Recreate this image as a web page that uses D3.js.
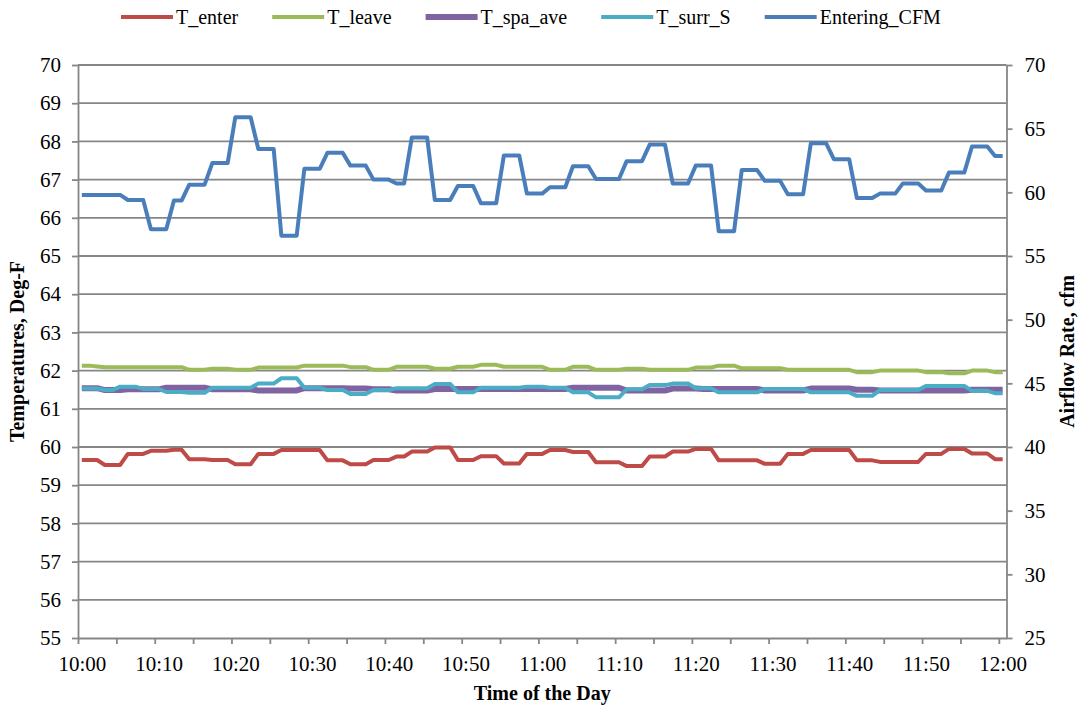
<!DOCTYPE html>
<html>
<head>
<meta charset="utf-8">
<script src="https://cdn.jsdelivr.net/npm/d3@7"></script>
<style>
  body { margin: 0; background: #fff; }
  .axis path, .axis line { stroke: #868686; stroke-width: 1.8; }
  .grid line { stroke: #868686; stroke-width: 1.8; }
</style>
</head>
<body>
<div id="chart"></div>
<script>
const FONT = '"Liberation Serif"';

// minute index from 10:00 (0) to 12:00 (120)
const minutes = d3.range(0, 121);
const tickLabels = ["10:00", "10:10", "10:20", "10:30", "10:40", "10:50", "11:00",
  "11:10", "11:20", "11:30", "11:40", "11:50", "12:00"];

const tEnter = [
  59.66, 59.66, 59.66, 59.53, 59.53, 59.53, 59.82, 59.82, 59.82, 59.90,
  59.90, 59.90, 59.93, 59.93, 59.68, 59.68, 59.68, 59.66, 59.66, 59.66,
  59.55, 59.55, 59.55, 59.82, 59.82, 59.82, 59.92, 59.92, 59.92, 59.92,
  59.92, 59.92, 59.65, 59.65, 59.65, 59.55, 59.55, 59.55, 59.66, 59.66,
  59.66, 59.75, 59.75, 59.88, 59.88, 59.88, 59.99, 59.99, 59.99, 59.66,
  59.66, 59.66, 59.76, 59.76, 59.76, 59.57, 59.57, 59.57, 59.82, 59.82,
  59.82, 59.92, 59.92, 59.92, 59.87, 59.87, 59.87, 59.60, 59.60, 59.60,
  59.60, 59.50, 59.50, 59.50, 59.75, 59.75, 59.75, 59.88, 59.88, 59.88,
  59.95, 59.95, 59.95, 59.65, 59.65, 59.65, 59.65, 59.65, 59.65, 59.56,
  59.56, 59.56, 59.82, 59.82, 59.82, 59.92, 59.92, 59.92, 59.92, 59.92,
  59.92, 59.65, 59.65, 59.65, 59.61, 59.61, 59.61, 59.61, 59.61, 59.61,
  59.82, 59.82, 59.82, 59.95, 59.95, 59.95, 59.83, 59.83, 59.83, 59.68,
  59.68
];

const tLeave = [
  62.13, 62.13, 62.11, 62.09, 62.09, 62.09, 62.09, 62.09, 62.09, 62.09,
  62.09, 62.09, 62.09, 62.09, 62.02, 62.02, 62.02, 62.05, 62.05, 62.05,
  62.02, 62.02, 62.02, 62.08, 62.08, 62.08, 62.08, 62.08, 62.08, 62.13,
  62.13, 62.13, 62.13, 62.13, 62.13, 62.09, 62.09, 62.09, 62.02, 62.02,
  62.02, 62.10, 62.10, 62.10, 62.10, 62.10, 62.05, 62.05, 62.05, 62.10,
  62.10, 62.10, 62.15, 62.15, 62.15, 62.10, 62.10, 62.10, 62.10, 62.10,
  62.10, 62.02, 62.02, 62.02, 62.10, 62.10, 62.10, 62.02, 62.02, 62.02,
  62.02, 62.05, 62.05, 62.05, 62.02, 62.02, 62.02, 62.02, 62.02, 62.02,
  62.08, 62.08, 62.08, 62.13, 62.13, 62.13, 62.06, 62.06, 62.06, 62.06,
  62.06, 62.06, 62.02, 62.02, 62.02, 62.02, 62.02, 62.02, 62.02, 62.02,
  62.02, 61.96, 61.96, 61.96, 62.00, 62.00, 62.00, 62.00, 62.00, 62.00,
  61.96, 61.96, 61.96, 61.93, 61.93, 61.93, 62.00, 62.00, 62.00, 61.96,
  61.96
];

const tSpaAve = [
  61.54, 61.54, 61.54, 61.49, 61.49, 61.49, 61.51, 61.51, 61.51, 61.51,
  61.51, 61.55, 61.55, 61.55, 61.55, 61.55, 61.55, 61.51, 61.51, 61.51,
  61.51, 61.51, 61.51, 61.48, 61.48, 61.48, 61.48, 61.48, 61.48, 61.54,
  61.54, 61.54, 61.54, 61.54, 61.54, 61.53, 61.53, 61.53, 61.51, 61.51,
  61.51, 61.48, 61.48, 61.48, 61.48, 61.48, 61.52, 61.52, 61.52, 61.52,
  61.52, 61.52, 61.52, 61.52, 61.52, 61.52, 61.52, 61.52, 61.52, 61.52,
  61.52, 61.52, 61.52, 61.52, 61.55, 61.55, 61.55, 61.55, 61.55, 61.55,
  61.55, 61.48, 61.48, 61.48, 61.48, 61.48, 61.48, 61.53, 61.53, 61.53,
  61.53, 61.52, 61.52, 61.52, 61.52, 61.52, 61.52, 61.52, 61.52, 61.48,
  61.48, 61.48, 61.48, 61.48, 61.48, 61.53, 61.53, 61.53, 61.53, 61.53,
  61.53, 61.50, 61.50, 61.50, 61.48, 61.48, 61.48, 61.48, 61.48, 61.48,
  61.48, 61.48, 61.48, 61.48, 61.48, 61.48, 61.50, 61.50, 61.50, 61.50,
  61.50
];

const tSurrS = [
  61.53, 61.53, 61.53, 61.49, 61.49, 61.58, 61.58, 61.58, 61.52, 61.52,
  61.52, 61.44, 61.44, 61.44, 61.42, 61.42, 61.42, 61.55, 61.55, 61.55,
  61.55, 61.55, 61.55, 61.66, 61.66, 61.66, 61.80, 61.80, 61.80, 61.55,
  61.55, 61.55, 61.49, 61.49, 61.49, 61.39, 61.39, 61.39, 61.49, 61.49,
  61.49, 61.54, 61.54, 61.54, 61.54, 61.54, 61.65, 61.65, 61.65, 61.43,
  61.43, 61.43, 61.55, 61.55, 61.55, 61.55, 61.55, 61.55, 61.58, 61.58,
  61.58, 61.55, 61.55, 61.55, 61.43, 61.43, 61.43, 61.30, 61.30, 61.30,
  61.30, 61.51, 61.51, 61.51, 61.62, 61.62, 61.62, 61.66, 61.66, 61.66,
  61.54, 61.54, 61.54, 61.43, 61.43, 61.43, 61.43, 61.43, 61.43, 61.52,
  61.52, 61.52, 61.52, 61.52, 61.52, 61.43, 61.43, 61.43, 61.43, 61.43,
  61.43, 61.34, 61.34, 61.34, 61.49, 61.49, 61.49, 61.49, 61.49, 61.49,
  61.60, 61.60, 61.60, 61.60, 61.60, 61.60, 61.47, 61.47, 61.47, 61.41,
  61.41
];

const enteringCfm = [
  59.80, 59.80, 59.80, 59.80, 59.80, 59.80, 59.40, 59.40, 59.40, 57.10,
  57.10, 57.10, 59.35, 59.35, 60.60, 60.60, 60.60, 62.30, 62.30, 62.30,
  65.90, 65.90, 65.90, 63.40, 63.40, 63.40, 56.60, 56.60, 56.60, 61.85,
  61.85, 61.85, 63.10, 63.10, 63.10, 62.10, 62.10, 62.10, 61.00, 61.00,
  61.00, 60.70, 60.70, 64.30, 64.30, 64.30, 59.40, 59.40, 59.40, 60.50,
  60.50, 60.50, 59.15, 59.15, 59.15, 62.90, 62.90, 62.90, 59.90, 59.90,
  59.90, 60.40, 60.40, 60.40, 62.05, 62.05, 62.05, 61.05, 61.05, 61.05,
  61.05, 62.45, 62.45, 62.45, 63.75, 63.75, 63.75, 60.70, 60.70, 60.70,
  62.10, 62.10, 62.10, 56.95, 56.95, 56.95, 61.75, 61.75, 61.75, 60.90,
  60.90, 60.90, 59.85, 59.85, 59.85, 63.85, 63.85, 63.85, 62.60, 62.60,
  62.60, 59.55, 59.55, 59.55, 59.90, 59.90, 59.90, 60.70, 60.70, 60.70,
  60.15, 60.15, 60.15, 61.55, 61.55, 61.55, 63.60, 63.60, 63.60, 62.85,
  62.85
];

const seriesNames = ["T_enter", "T_leave", "T_spa_ave", "T_surr_S", "Entering_CFM"];
const seriesColors = ["#BE4B48", "#9BBB59", "#8064A2", "#4BACC6", "#4A7EBB"];

const series = [
  { name: seriesNames[0], values: tEnter, color: seriesColors[0], axis: "left", w: 4 },
  { name: seriesNames[1], values: tLeave, color: seriesColors[1], axis: "left", w: 4 },
  { name: seriesNames[2], values: tSpaAve, color: seriesColors[2], axis: "left", w: 6 },
  { name: seriesNames[3], values: tSurrS, color: seriesColors[3], axis: "left", w: 4 },
  { name: seriesNames[4], values: enteringCfm, color: seriesColors[4], axis: "right", w: 4 }
];

const W = 1079, H = 709;
const plot = { left: 78, right: 1006.5, top: 65, bottom: 638 };

const svg = d3.select("#chart").append("svg")
  .attr("width", W)
  .attr("height", H);

// categories sit between tick marks
const x = d3.scaleLinear()
  .domain([-0.5, 120.5])
  .range([plot.left, plot.right]);

const yL = d3.scaleLinear().domain([55, 70]).range([plot.bottom, plot.top]);
const yR = d3.scaleLinear().domain([25, 70]).range([plot.bottom, plot.top]);

// horizontal gridlines
svg.append("g")
  .attr("class", "grid")
  .selectAll("line")
  .data(d3.range(56, 71))
  .enter().append("line")
  .attr("x1", plot.left)
  .attr("x2", plot.right)
  .attr("y1", d => yL(d))
  .attr("y2", d => yL(d));

// x axis: tick marks every 5 minutes, labels every 10
svg.append("g")
  .attr("class", "axis")
  .attr("transform", `translate(0,${plot.bottom})`)
  .call(d3.axisBottom(x).tickValues(d3.range(-0.5, 120, 5)).tickSize(6).tickSizeOuter(0).tickFormat(""));

svg.append("g")
  .attr("class", "axis")
  .attr("transform", `translate(0,${plot.bottom})`)
  .call(d3.axisBottom(x).tickValues(d3.range(0, 121, 10)).tickSize(0).tickFormat((d, i) => tickLabels[i]))
  .call(g => g.select(".domain").remove())
  .selectAll("text")
  .attr("y", 18);

svg.append("g")
  .attr("class", "axis")
  .attr("transform", `translate(${plot.left},0)`)
  .call(d3.axisLeft(yL).tickValues(d3.range(55, 71, 1)).tickSize(6).tickSizeOuter(0).tickPadding(11));

svg.append("g")
  .attr("class", "axis")
  .attr("transform", `translate(${plot.right},0)`)
  .call(d3.axisRight(yR).tickValues(d3.range(25, 71, 5)).tickSize(6).tickSizeOuter(0).tickPadding(12));

svg.selectAll(".axis text")
  .style("font-family", FONT)
  .style("font-size", "21px")
  .style("fill", "#000");

// lines
series.forEach(s => {
  const y = s.axis === "left" ? yL : yR;
  const line = d3.line()
    .x((d, i) => x(minutes[i]))
    .y(d => y(d));
  svg.append("path")
    .datum(s.values)
    .attr("fill", "none")
    .attr("stroke", s.color)
    .attr("stroke-width", s.w)
    .attr("stroke-linejoin", "round")
    .attr("d", line);
});

// axis titles
function title(sel) {
  sel.style("font-family", FONT)
    .style("font-size", "20px")
    .style("font-weight", "bold")
    .attr("text-anchor", "middle");
}

svg.append("text")
  .attr("x", (plot.left + plot.right) / 2)
  .attr("y", 700)
  .call(title)
  .text("Time of the Day");

svg.append("text")
  .attr("transform", `translate(24,${(plot.top + plot.bottom) / 2}) rotate(-90)`)
  .call(title)
  .text("Temperatures, Deg-F");

svg.append("text")
  .attr("transform", `translate(1074,${(plot.top + plot.bottom) / 2}) rotate(-90)`)
  .call(title)
  .text("Airflow Rate, cfm");

// legend
const legend = svg.append("g").attr("class", "legend");
let lx = 121;
series.forEach(s => {
  const item = legend.append("g");
  item.append("line")
    .attr("x1", lx).attr("x2", lx + 52)
    .attr("y1", 17).attr("y2", 17)
    .attr("stroke", s.color)
    .attr("stroke-width", s.w);
  const t = item.append("text")
    .attr("x", lx + 55)
    .attr("y", 24)
    .style("font-family", FONT)
    .style("font-size", "20px")
    .text(s.name);
  lx += 55 + t.node().getComputedTextLength() + 34;
});
</script>
</body>
</html>
